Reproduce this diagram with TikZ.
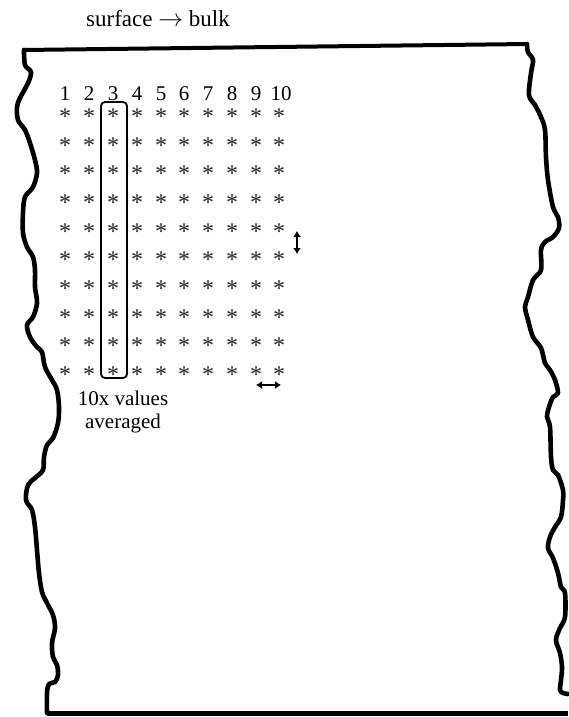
\documentclass[tikz,border=0pt]{standalone}
\usepackage{fontspec}
\setmainfont{Liberation Serif}
\usetikzlibrary{arrows.meta}
\begin{document}
\begin{tikzpicture}[x=1pt,y=-1pt,
  edge/.style={line width=4.6pt, line join=round, line cap=round},
  lbl/.style={font=\fontsize{21}{23}\selectfont, inner sep=0pt},
  num/.style={font=\fontsize{21}{23}\selectfont, inner sep=0pt, anchor=base},
  star/.style={font=\fontsize{24}{26}\selectfont, inner sep=0pt, anchor=base, text=black!85},
  dbl/.style={{Latex[length=6pt,width=8pt]}-{Latex[length=6pt,width=8pt]}, line width=2pt}]
\useasboundingbox (0,0) rectangle (568,717);
% title
\node[lbl, anchor=base, font=\fontsize{23}{25}\selectfont] (title) at (158,27) {surface $\rightarrow$ bulk};
% top and bottom edges
\draw[line width=4pt] (23,50) -- (528,44);
\draw[line width=5pt] (47,713) -- (568,713);
% left edge
\draw[edge] plot[smooth, tension=0.55] coordinates {
 (24,50) (25,65) (31,72) (28,83) (20,98) (17,107) (18,120) (25,130) (30,143)
 (35,160) (37,173) (33,187) (25,197) (23,213) (23,233) (27,247) (33,257)
 (35,270) (35,287) (37,303) (33,317) (27,325) (30,337) (37,347) (42,352)
 (45,367) (52,380) (57,390) (59,407) (58,423) (53,438) (47,445) (44,457)
 (43,470) (35,478) (28,485) (26,500) (32,510) (35,527) (37,550) (39,573)
 (42,592) (47,603) (53,615) (55,628) (52,643) (53,657) (57,665) (58,675)
 (55,682) (49,684) (47,693) (47,713)};
% right edge
\draw[edge] plot[smooth, tension=0.55] coordinates {
 (527,44) (528,52) (533,60) (531,73) (529,95) (535,105) (541,117) (545,130)
 (546,157) (548,180) (553,207) (558,217) (559,228) (553,237) (545,242)
 (541,250) (541,270) (533,280) (528,297) (525,307) (528,320) (533,337)
 (541,348) (545,363) (550,370) (555,380) (558,393) (553,397) (549,407)
 (547,417) (550,427) (551,457) (553,470) (558,475) (563,490) (563,500)
 (561,517) (555,527) (550,537) (548,548) (553,558) (558,573) (561,587)
 (565,593) (565,617) (560,628) (556,640) (560,653) (562,667) (561,680)
 (560,690) (563,693) (568,694)};
% column numbers and asterisks
\foreach \c/\x in {1/65,2/89,3/113,4/137,5/161,6/184,7/208,8/232,9/256,10/281}{
  \node[num] (n\c) at (\x,100) {\c};
}
\foreach \c/\x in {1/65,2/89,3/113,4/137,5/161,6/184,7/208,8/232,9/256,10/279}{
  \foreach \r in {0,...,9}{
    \node[star] (s\c-\r) at (\x,{113+28.7*\r+11.3}) {*};
  }
}
% averaging box
\node[draw, rounded corners=4pt, line width=1.8pt, minimum width=26pt, minimum height=276pt, inner sep=0pt] (box) at (114,240) {};
% spacing arrows
\coordinate (v1) at (297,231);
\coordinate (v2) at (297,254);
\coordinate (h1) at (256,385);
\coordinate (h2) at (281,385);
\draw[dbl] (v1) -- (v2);
\draw[dbl] (h1) -- (h2);
% note
\node[lbl, align=center, anchor=north] (note) at (123,391) {10x values\\averaged};
\end{tikzpicture}
\end{document}
